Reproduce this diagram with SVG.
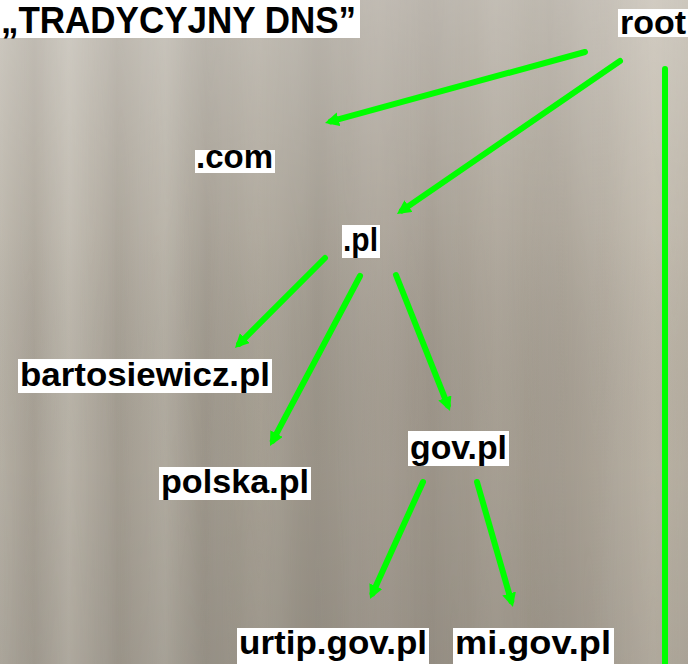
<svg xmlns="http://www.w3.org/2000/svg" width="688" height="664" viewBox="0 0 688 664">
<defs>
<linearGradient id="bgH" x1="0" y1="0" x2="1" y2="0">
<stop offset="0" stop-color="#b9b3a7"/>
<stop offset="0.05" stop-color="#aaa397"/>
<stop offset="0.1" stop-color="#bdb7ab"/>
<stop offset="0.17" stop-color="#a69f93"/>
<stop offset="0.24" stop-color="#b4aea2"/>
<stop offset="0.3" stop-color="#9f988c"/>
<stop offset="0.38" stop-color="#aaa396"/>
<stop offset="0.46" stop-color="#9c9589"/>
<stop offset="0.55" stop-color="#a79f93"/>
<stop offset="0.63" stop-color="#9e968a"/>
<stop offset="0.72" stop-color="#a9a194"/>
<stop offset="0.8" stop-color="#a39b8e"/>
<stop offset="0.88" stop-color="#b0a89b"/>
<stop offset="0.95" stop-color="#bfb7a9"/>
<stop offset="1" stop-color="#b8b0a2"/>
</linearGradient>
<linearGradient id="bgV" x1="0" y1="0" x2="0" y2="1">
<stop offset="0" stop-color="#ffffff" stop-opacity="0.28"/>
<stop offset="0.35" stop-color="#ffffff" stop-opacity="0.08"/>
<stop offset="0.7" stop-color="#000000" stop-opacity="0.03"/>
<stop offset="1" stop-color="#000000" stop-opacity="0.08"/>
</linearGradient>
<filter id="streak" x="0" y="0" width="1" height="1">
<feTurbulence type="fractalNoise" baseFrequency="0.035 0.0015" numOctaves="2" seed="4" result="n"/>
<feColorMatrix type="matrix" values="0 0 0 0 0.5  0 0 0 0 0.48  0 0 0 0 0.44  0 0 0 0.35 -0.05"/>
<feComposite in2="SourceGraphic" operator="in"/>
</filter>
<marker id="ah" markerUnits="userSpaceOnUse" markerWidth="16" markerHeight="16" refX="8" refY="7" orient="auto">
<path d="M0,0 L14,7 L0,14 z" fill="#00ff00"/>
</marker>
<style>
.lbl rect { fill: #ffffff; }
.lbl text { font-family: "Liberation Sans", Arial, sans-serif; font-weight: bold; font-size: 34px; fill: #000000; }
.conn line { stroke: #00ff00; stroke-width: 6; stroke-linecap: round; }
.conn .arr { marker-end: url(#ah); }
</style>
</defs>
<rect x="0" y="0" width="688" height="664" fill="url(#bgH)"/>
<rect x="0" y="0" width="688" height="664" fill="#fff" filter="url(#streak)" opacity="0.6"/>
<rect x="0" y="0" width="688" height="664" fill="url(#bgV)"/>

<g id="connectors" class="conn">
<line class="arr" x1="585" y1="52" x2="330.8" y2="121.4"/>
<line class="arr" x1="620" y1="61" x2="401.9" y2="210.6"/>
<line x1="665" y1="69" x2="665" y2="670"/>
<line class="arr" x1="325" y1="258" x2="239.2" y2="343.8"/>
<line class="arr" x1="360" y1="276" x2="272.8" y2="440.7"/>
<line class="arr" x1="396" y1="275" x2="447.8" y2="405.4"/>
<line class="arr" x1="423" y1="482" x2="372.5" y2="593.5"/>
<line class="arr" x1="477" y1="482" x2="511.3" y2="601.2"/>
</g>

<g id="title" class="lbl">
<rect x="0" y="0" width="360" height="38"/>
<text x="1" y="33" style="font-size:36px" textLength="355" lengthAdjust="spacingAndGlyphs">„TRADYCYJNY DNS”</text>
</g>
<g id="root" class="lbl">
<rect x="618" y="9" width="70" height="28"/>
<text x="620" y="34" textLength="66" lengthAdjust="spacingAndGlyphs">root</text>
</g>
<g id="com" class="lbl">
<rect x="195" y="150" width="80" height="23"/>
<text x="196" y="168" textLength="77" lengthAdjust="spacingAndGlyphs">.com</text>
</g>
<g id="pl" class="lbl">
<rect x="342" y="225" width="38" height="33"/>
<text x="343" y="251" textLength="35" lengthAdjust="spacingAndGlyphs">.pl</text>
</g>
<g id="bartosiewicz" class="lbl">
<rect x="18" y="359" width="254" height="34"/>
<text x="20" y="386" textLength="250" lengthAdjust="spacingAndGlyphs">bartosiewicz.pl</text>
</g>
<g id="polska" class="lbl">
<rect x="159" y="467" width="152" height="33"/>
<text x="161" y="493" textLength="148" lengthAdjust="spacingAndGlyphs">polska.pl</text>
</g>
<g id="gov" class="lbl">
<rect x="408" y="431" width="101" height="35"/>
<text x="410" y="459" textLength="97" lengthAdjust="spacingAndGlyphs">gov.pl</text>
</g>
<g id="urtip" class="lbl">
<rect x="237" y="628" width="192" height="36"/>
<text x="239" y="654" textLength="188" lengthAdjust="spacingAndGlyphs">urtip.gov.pl</text>
</g>
<g id="mi" class="lbl">
<rect x="453" y="628" width="161" height="36"/>
<text x="455" y="654" textLength="156" lengthAdjust="spacingAndGlyphs">mi.gov.pl</text>
</g>
</svg>
